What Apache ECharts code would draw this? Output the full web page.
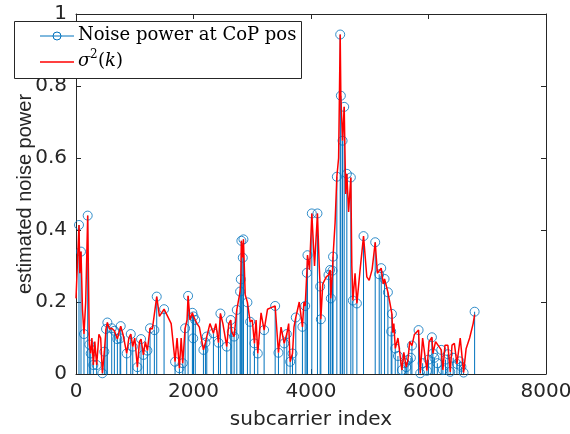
<!DOCTYPE html>
<html><head><meta charset="utf-8">
<script src="https://cdn.jsdelivr.net/npm/echarts@6/dist/echarts.min.js"></script>
<style>html,body{margin:0;padding:0;background:#fff}#c{width:570px;height:434px}</style>
</head><body><div id="c"></div>
<script>
// Stem samples: noise power at CoP positions
const stemX = [51,85,136,199,227,250,295,352,449,483,511,534,608,653,704,750,761,863,932,966,
  1045,1107,1147,1215,1260,1334,1374,1499,1686,1760,1817,1857,1908,1981,1995,2000,2030,2169,2203,2226,
  2339,2425,2458,2566,2634,2651,2691,2737,2793,2805,2815,2839,2850,2918,2964,3037,3094,3202,3390,3446,
  3543,3588,3645,3685,3741,3854,3901,3929,3940,4014,4110,4156,4168,4298,4326,4338,4366,4375,4440,4497,
  4508,4537,4565,4610,4678,4713,4781,4894,5093,5161,5195,5252,5309,5365,5377,5434,5480,5547,5600,5621,
  5650,5700,5718,5831,5859,5900,5973,6000,6058,6075,6100,6150,6217,6245,6290,6330,6370,6420,6484,6530,
  6560,6597,6785];
const stemY = [0.414,0.34,0.111,0.44,0.082,0.057,0.025,0.025,0.002,0.062,0.125,0.143,0.127,0.12,0.097,0.099,0.133,0.057,0.111,0.076,
  0.019,0.097,0.053,0.065,0.127,0.122,0.215,0.18,0.034,0.016,0.03,0.127,0.217,0.17,0.099,0.16,0.15,0.067,0.087,0.104,
  0.113,0.087,0.168,0.076,0.15,0.117,0.104,0.178,0.229,0.263,0.37,0.323,0.374,0.199,0.145,0.085,0.057,0.122,0.189,0.059,
  0.085,0.111,0.034,0.057,0.157,0.131,0.189,0.281,0.33,0.446,0.446,0.243,0.152,0.275,0.289,0.21,0.287,0.326,0.548,0.943,
  0.773,0.648,0.742,0.556,0.546,0.204,0.196,0.383,0.366,0.277,0.294,0.264,0.227,0.118,0.167,0.071,0.05,0.011,0.03,0.019,
  0.039,0.045,0.079,0.122,0.002,0.03,0.009,0.04,0.102,0.057,0.045,0.03,0.067,0.011,0.04,0.055,0.006,0.045,0.028,0.035,
  0.02,0.004,0.173];
// Estimated noise power curve sigma^2(k)
const curveX = [0,51,65,85,110,136,165,199,227,250,270,295,320,352,390,420,449,483,511,534,570,608,653,704,740,761,800,863,900,932,966,1000,
  1045,1080,1107,1147,1180,1215,1260,1300,1334,1374,1420,1499,1560,1620,1686,1720,1760,1790,1817,1857,1890,1908,1940,1981,2000,2030,2060,2100,
  2169,2203,2226,2280,2339,2380,2425,2458,2500,2566,2600,2634,2651,2691,2737,2793,2805,2815,2839,2850,2880,2918,2964,3000,3037,3065,3094,3150,
  3202,3260,3330,3390,3446,3490,3543,3588,3620,3645,3685,3710,3741,3800,3854,3880,3901,3929,3940,3975,4014,4060,4110,4140,4156,4168,4200,4260,
  4298,4326,4338,4366,4375,4410,4440,4470,4497,4508,4537,4565,4590,4610,4640,4678,4695,4713,4750,4781,4830,4894,4950,4990,5040,5093,5130,5161,
  5195,5230,5252,5309,5340,5377,5390,5410,5434,5480,5547,5580,5621,5650,5680,5718,5760,5831,5859,5900,5973,6010,6058,6075,6120,6217,6245,6280,
  6330,6370,6400,6440,6484,6540,6597,6640,6700,6760,6785];
const curveY = [0.21,0.414,0.28,0.34,0.18,0.111,0.2,0.44,0.082,0.057,0.1,0.025,0.09,0.025,0.11,0.1,0.002,0.062,0.125,0.143,0.125,0.127,0.12,0.097,0.12,0.133,0.11,0.057,0.1,0.111,0.076,0.1,
  0.019,0.09,0.097,0.053,0.09,0.065,0.127,0.125,0.122,0.215,0.16,0.18,0.16,0.14,0.034,0.1,0.016,0.1,0.03,0.127,0.15,0.217,0.15,0.17,0.16,0.15,0.14,0.13,
  0.067,0.087,0.104,0.14,0.113,0.14,0.087,0.168,0.14,0.076,0.14,0.15,0.117,0.104,0.178,0.229,0.263,0.37,0.323,0.374,0.22,0.199,0.145,0.15,0.085,0.15,0.057,0.17,
  0.122,0.18,0.185,0.189,0.059,0.13,0.085,0.111,0.14,0.034,0.057,0.13,0.157,0.2,0.131,0.2,0.189,0.281,0.33,0.29,0.446,0.3,0.446,0.3,0.243,0.152,0.25,0.27,
  0.275,0.289,0.21,0.287,0.326,0.42,0.548,0.6,0.943,0.773,0.648,0.742,0.5,0.556,0.45,0.546,0.3,0.204,0.28,0.196,0.28,0.383,0.27,0.26,0.29,0.366,0.28,0.277,
  0.294,0.25,0.264,0.227,0.2,0.167,0.115,0.14,0.071,0.1,0.011,0.06,0.019,0.039,0.09,0.079,0.11,0.122,0.002,0.1,0.009,0.09,0.102,0.057,0.09,0.067,0.011,0.08,
  0.08,0.006,0.08,0.085,0.028,0.1,0.004,0.07,0.1,0.14,0.165];
const xTicks = [0, 2000, 4000, 6000, 8000];
const yTicks = [0, 0.2, 0.4, 0.6, 0.8, 1];
const legendNames = ['Noise power at CoP pos', '\u03c3', '2', '(', 'k', ')'];

const BLUE = '#0072BD', RED = '#FF0000', AX = '#262626';
const stemData = stemX.map((x, i) => [x, stemY[i]]);
const curveData = curveX.map((x, i) => [x, curveY[i]]);

const chart = echarts.init(document.getElementById('c'), null, {renderer: 'canvas'});
const axCommon = {
  min: xTicks[0], max: xTicks[xTicks.length - 1], interval: xTicks[1] - xTicks[0]
};
const yCommon = {
  min: yTicks[0], max: yTicks[yTicks.length - 1], interval: yTicks[1] - yTicks[0]
};
chart.setOption({
  animation: false,
  backgroundColor: '#fff',
  grid: {left: 76, right: 24, top: 14, bottom: 60, containLabel: false, outerBoundsMode: 'none'},
  xAxis: [
    Object.assign({type: 'value', position: 'bottom',
      name: 'subcarrier index', nameLocation: 'middle', nameGap: 36,
      nameTextStyle: {fontFamily: 'DejaVu Sans', fontSize: 20, color: AX},
      axisLine: {show: true, onZero: false, lineStyle: {color: AX, width: 1}},
      axisTick: {show: true, inside: true, length: 5, lineStyle: {color: AX}},
      axisLabel: {fontFamily: 'DejaVu Sans', fontSize: 20, color: AX, margin: 8,
        formatter: v => String(v)},
      splitLine: {show: false}}, axCommon),
    Object.assign({type: 'value', position: 'top',
      axisLine: {show: true, onZero: false, lineStyle: {color: AX, width: 1}},
      axisTick: {show: true, inside: true, length: 5, lineStyle: {color: AX}},
      axisLabel: {show: false}, splitLine: {show: false}}, axCommon)
  ],
  yAxis: [
    Object.assign({type: 'value', position: 'left',
      name: 'estimated noise power', nameLocation: 'middle', nameGap: 41, nameRotate: 90,
      nameMoveOverlap: false,
      nameTextStyle: {fontFamily: 'Liberation Sans', fontSize: 20, color: AX},
      axisLine: {show: true, onZero: false, lineStyle: {color: AX, width: 1}},
      axisTick: {show: true, inside: true, length: 5, lineStyle: {color: AX}},
      axisLabel: {fontFamily: 'DejaVu Sans', fontSize: 20, color: AX, margin: 9,
        formatter: v => String(v)},
      splitLine: {show: false}}, yCommon),
    Object.assign({type: 'value', position: 'right',
      axisLine: {show: true, onZero: false, lineStyle: {color: AX, width: 1}},
      axisTick: {show: true, inside: true, length: 5, lineStyle: {color: AX}},
      axisLabel: {show: false}, splitLine: {show: false}}, yCommon)
  ],
  series: [
    {
      type: 'custom', name: 'stems', xAxisIndex: 0, yAxisIndex: 0,
      data: stemData, encode: {x: 0, y: 1}, clip: true,
      renderItem: function (params, api) {
        const top = api.coord([api.value(0), api.value(1)]);
        const base = api.coord([api.value(0), 0]);
        return {type: 'line', shape: {x1: base[0], y1: base[1], x2: top[0], y2: top[1]},
          style: {stroke: BLUE, lineWidth: 1}};
      },
      z: 2
    },
    {
      type: 'scatter', name: 'circles', data: stemData,
      symbol: 'circle', symbolSize: 9,
      itemStyle: {color: 'rgba(0,0,0,0)', borderColor: BLUE, borderWidth: 1},
      z: 3, silent: true
    },
    {
      type: 'line', name: 'sigma', data: curveData, showSymbol: false, symbol: 'none',
      lineStyle: {color: RED, width: 1.5}, z: 4, silent: true
    }
  ],
  graphic: [
    {type: 'rect', z: 100, shape: {x: 14.5, y: 21.5, width: 287, height: 57},
      style: {fill: '#fff', stroke: AX, lineWidth: 1}},
    {type: 'line', z: 101, shape: {x1: 40, y1: 36, x2: 74, y2: 36}, style: {stroke: BLUE, lineWidth: 1}},
    {type: 'circle', z: 101, shape: {cx: 57, cy: 36, r: 4}, style: {fill: 'none', stroke: BLUE, lineWidth: 1}},
    {type: 'line', z: 101, shape: {x1: 40, y1: 62, x2: 74, y2: 62}, style: {stroke: RED, lineWidth: 1.5}},
    {type: 'text', z: 101, left: 78, top: 26, style: {text: legendNames[0], font: '18px "DejaVu Serif"', fill: '#000'}},
    {type: 'text', z: 101, left: 78, top: 52, style: {text: legendNames[1], font: 'italic 18px "DejaVu Serif"', fill: '#000'}},
    {type: 'text', z: 101, left: 90, top: 49, style: {text: legendNames[2], font: '12px "DejaVu Serif"', fill: '#000'}},
    {type: 'text', z: 101, left: 98, top: 52, style: {text: legendNames[3], font: '18px "DejaVu Serif"', fill: '#000'}},
    {type: 'text', z: 101, left: 105, top: 52, style: {text: legendNames[4], font: 'italic 18px "DejaVu Serif"', fill: '#000'}},
    {type: 'text', z: 101, left: 116, top: 52, style: {text: legendNames[5], font: '18px "DejaVu Serif"', fill: '#000'}}
  ]
});
</script>
</body></html>
